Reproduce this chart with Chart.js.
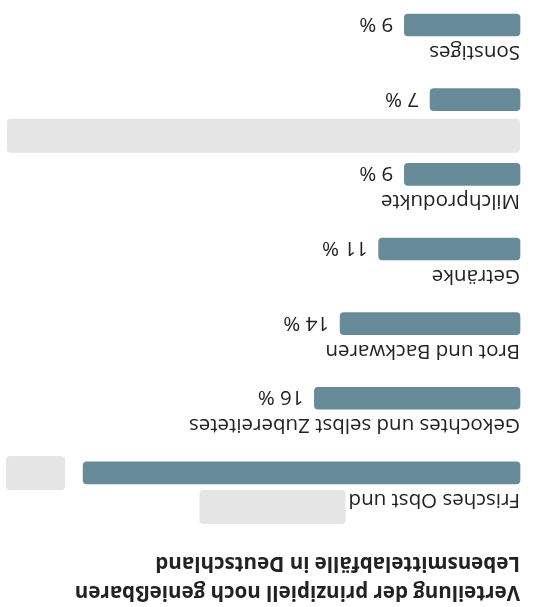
<!DOCTYPE html>
<html lang="de">
<head>
<meta charset="utf-8">
<title>Lebensmittelabfälle</title>
<script src="https://cdn.jsdelivr.net/npm/chart.js@4.4.1/dist/chart.umd.min.js"></script>
<style>
  html, body { margin: 0; padding: 0; background: #fff; }
  /* the reference is shown upside down */
  #wrap { width: 539px; height: 607px; transform: rotate(180deg); }
</style>
</head>
<body>
<div id="wrap"><canvas id="chart" width="539" height="607"></canvas></div>
<script>
// Data
const categories = [
  'Frisches Obst und',
  'Gekochtes und selbst Zubereitetes',
  'Brot und Backwaren',
  'Getränke',
  'Milchprodukte',
  '',
  'Sonstiges'
];
const shares = [34, 16, 14, 11, 9, 7, 9];
const hiddenValues = [0];     // value labels under a grey cover
const titleLines = [
  'Verteilung der prinzipiell noch genießbaren',
  'Lebensmittelabfälle in Deutschland'
];

const barColor = '#678b99';
const textColor = '#222222';
const coverColor = '#e5e5e5';
const fontFamily = '"Open Sans", "Noto Sans", sans-serif';

// Draws the category label above each bar, the value right of it,
// and the grey covers over the hidden parts of the picture
const barLabels = {
  id: 'barLabels',
  afterDatasetsDraw(chart) {
    const ctx = chart.ctx;
    const area = chart.chartArea;
    const bars = chart.getDatasetMeta(0).data;
    ctx.save();
    ctx.fillStyle = textColor;
    ctx.font = '20.5px ' + fontFamily;
    ctx.textAlign = 'left';
    bars.forEach((bar, i) => {
      const top = bar.y - bar.height / 2;
      ctx.textBaseline = 'alphabetic';
      if (categories[i]) ctx.fillText(categories[i], area.left, top - 10);
      if (hiddenValues.includes(i)) return;
      ctx.textBaseline = 'middle';
      ctx.fillText(shares[i] + ' %', bar.x + 11, bar.y + 1);
    });

    // grey covers
    ctx.fillStyle = coverColor;
    const first = bars[0];
    const firstTop = first.y - first.height / 2;
    const labelEnd = area.left + ctx.measureText(categories[0]).width;
    ctx.beginPath();
    ctx.roundRect(labelEnd + 3, firstTop - 40, 146, 34, 4);
    ctx.roundRect(first.x + 18, first.y - 17, 59, 34, 4);
    const hidden = bars[5];
    const hiddenTop = hidden.y - hidden.height / 2;
    ctx.roundRect(area.left, hiddenTop - 42, chart.width - 7 - area.left, 34, 4);
    ctx.fill();
    ctx.restore();
  }
};

new Chart(document.getElementById('chart'), {
  type: 'bar',
  data: {
    labels: categories,
    datasets: [{
      data: shares,
      backgroundColor: barColor,
      borderWidth: 0,
      borderRadius: 4,
      borderSkipped: false,
      barThickness: 22,
      clip: false
    }]
  },
  options: {
    indexAxis: 'y',
    responsive: false,
    devicePixelRatio: 1,
    animation: false,
    layout: { padding: { left: 19, right: 6, top: 0, bottom: 25 } },
    scales: {
      x: { display: false, min: 0, max: 40 },
      y: { display: false, offset: false, grid: { display: false } }
    },
    plugins: {
      legend: { display: false },
      tooltip: { enabled: false },
      title: {
        display: true,
        text: titleLines,
        align: 'start',
        color: textColor,
        font: { family: fontFamily, size: 20.5, weight: 'bold', lineHeight: 1.45 },
        padding: { top: 0, bottom: 74.6 }
      }
    }
  },
  plugins: [barLabels]
});
</script>
</body>
</html>
